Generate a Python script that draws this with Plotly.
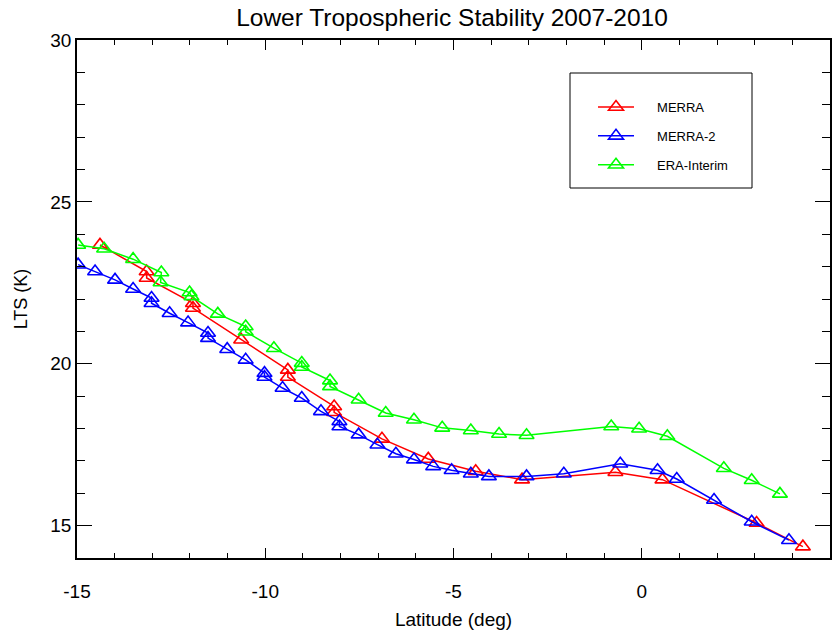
import plotly.graph_objects as go

# ---- data ----
merra_lat = [-14.39, -13.15, -13.15, -11.92, -11.92, -10.64, -9.40, -9.40, -8.17, -8.17,
             -6.90, -5.67, -4.41, -3.18, -0.70, 0.55, 3.05, 4.28]
merra_lts = [23.67, 22.85, 22.65, 21.87, 21.72, 20.74, 19.81, 19.59, 18.68, 18.50,
             17.68, 17.06, 16.68, 16.42, 16.65, 16.42, 15.08, 14.35]

merra2_lat = [-14.97, -14.52, -13.99, -13.51, -13.02, -13.02, -12.54, -12.05, -11.52, -11.52,
              -11.01, -10.52, -10.02, -10.02, -9.54, -9.03, -8.52, -8.03, -8.03, -7.52,
              -7.02, -6.53, -6.05, -5.54, -5.05, -4.54, -4.06, -3.06, -2.07, -0.57,
              0.42, 0.93, 1.92, 2.92, 3.91]
merra2_lts = [23.06, 22.85, 22.59, 22.31, 22.03, 21.87, 21.56, 21.27, 20.95, 20.79,
              20.45, 20.12, 19.71, 19.59, 19.25, 18.94, 18.53, 18.22, 18.06, 17.81,
              17.50, 17.22, 17.04, 16.83, 16.71, 16.60, 16.52, 16.52, 16.60, 16.91,
              16.71, 16.44, 15.79, 15.12, 14.55]

era_lat = [-14.97, -14.28, -13.51, -12.76, -12.78, -12.01, -11.96, -11.26, -10.52, -10.52,
           -9.77, -9.03, -9.03, -8.28, -8.28, -7.52, -6.80, -6.05, -5.30, -4.54,
           -3.79, -3.06, -0.81, -0.07, 0.68, 2.18, 2.92, 3.67]
era_lts = [23.67, 23.55, 23.23, 22.82, 22.51, 22.20, 22.08, 21.54, 21.15, 20.99,
           20.48, 20.02, 19.90, 19.48, 19.30, 18.89, 18.48, 18.27, 18.02, 17.94,
           17.83, 17.79, 18.06, 17.99, 17.76, 16.77, 16.40, 15.98]

series_names = ["MERRA", "MERRA-2", "ERA-Interim"]
series_colors = ["#ff0000", "#0000ff", "#00ff00"]

x_tickvals = [-15, -10, -5, 0, 5]
x_ticktext = ["-15", "-10", "-5", "0", "5"]
y_tickvals = [15, 20, 25, 30]
y_ticktext = ["15", "20", "25", "30"]

title_text = "Lower Tropospheric Stability 2007-2010"
x_title = "Latitude (deg)"
y_title = "LTS (K)"
x_range = [-15, 5]
y_range = [14, 30]

FONT = "Liberation Sans, Arial, Helvetica, sans-serif"
PAD = "\u00a0\u00a0\u00a0\u00a0\u00a0"

fig = go.Figure()
for i, (xs, ys) in enumerate([(merra_lat, merra_lts), (merra2_lat, merra2_lts), (era_lat, era_lts)]):
    fig.add_trace(go.Scatter(
        x=xs, y=ys, mode="lines+markers", name=PAD + series_names[i],
        legendgroup=series_names[i],
        line=dict(color=series_colors[i], width=1.5),
        marker=dict(symbol="triangle-up-open", size=13, color=series_colors[i],
                    line=dict(width=1.6, color=series_colors[i])),
    ))

# the page body margin is removed (post_script), so window pixels = figure pixels
W, H = 833, 633
L, R, T, B = 77, 830, 40, 558
pw, ph = R - L, B - T


def px_x(px):
    return (px - L) / pw


def px_y(py):
    return (B - py) / ph


fig.add_shape(type="rect", xref="paper", yref="paper",
              x0=px_x(570), x1=px_x(752), y0=px_y(188), y1=px_y(73),
              line=dict(color="black", width=1), fillcolor="rgba(0,0,0,0)")

fig.update_layout(
    width=W, height=H,
    margin=dict(l=L, r=W - R, t=T, b=H - B, autoexpand=False),
    paper_bgcolor="white", plot_bgcolor="white",
    font=dict(family=FONT, color="black"),
    title=dict(text=title_text, x=px_x(452), xref="paper", xanchor="center",
               y=1 - 17 / H, yref="container", yanchor="middle",
               font=dict(size=24.5, family=FONT, color="black")),
    showlegend=True,
    legend=dict(x=px_x(593), y=px_y(92), xanchor="left", yanchor="top",
                bgcolor="rgba(0,0,0,0)", borderwidth=0,
                font=dict(size=13, family=FONT, color="black"),
                tracegroupgap=9, itemwidth=36),
)

fig.update_xaxes(
    range=x_range, tickvals=x_tickvals, ticktext=x_ticktext, automargin=False,
    showgrid=False, zeroline=False,
    showline=True, linecolor="black", linewidth=1.5, mirror="allticks",
    ticks="inside", ticklen=10, tickwidth=1.2, tickcolor="black",
    ticklabelstandoff=15,
    tickfont=dict(size=19, family=FONT, color="black"),
    minor=dict(dtick=1, tick0=0, ticks="inside", ticklen=5, tickwidth=1.2, tickcolor="black", showgrid=False),
    title=dict(text=x_title, font=dict(size=19, family=FONT, color="black"), standoff=12),
)
fig.update_yaxes(
    range=y_range, tickvals=y_tickvals, ticktext=y_ticktext, automargin=False,
    showgrid=False, zeroline=False,
    showline=True, linecolor="black", linewidth=1.5, mirror="allticks",
    ticks="inside", ticklen=15, tickwidth=1.2, tickcolor="black",
    tickfont=dict(size=19, family=FONT, color="black"),
    minor=dict(dtick=1, tick0=0, ticks="inside", ticklen=8, tickwidth=1.2, tickcolor="black", showgrid=False),
    title=dict(text=y_title, font=dict(size=18, family=FONT, color="black"), standoff=18),
)

fig.write_html("out.html", config={"displayModeBar": False},
               post_script="document.body.style.margin='0';")
